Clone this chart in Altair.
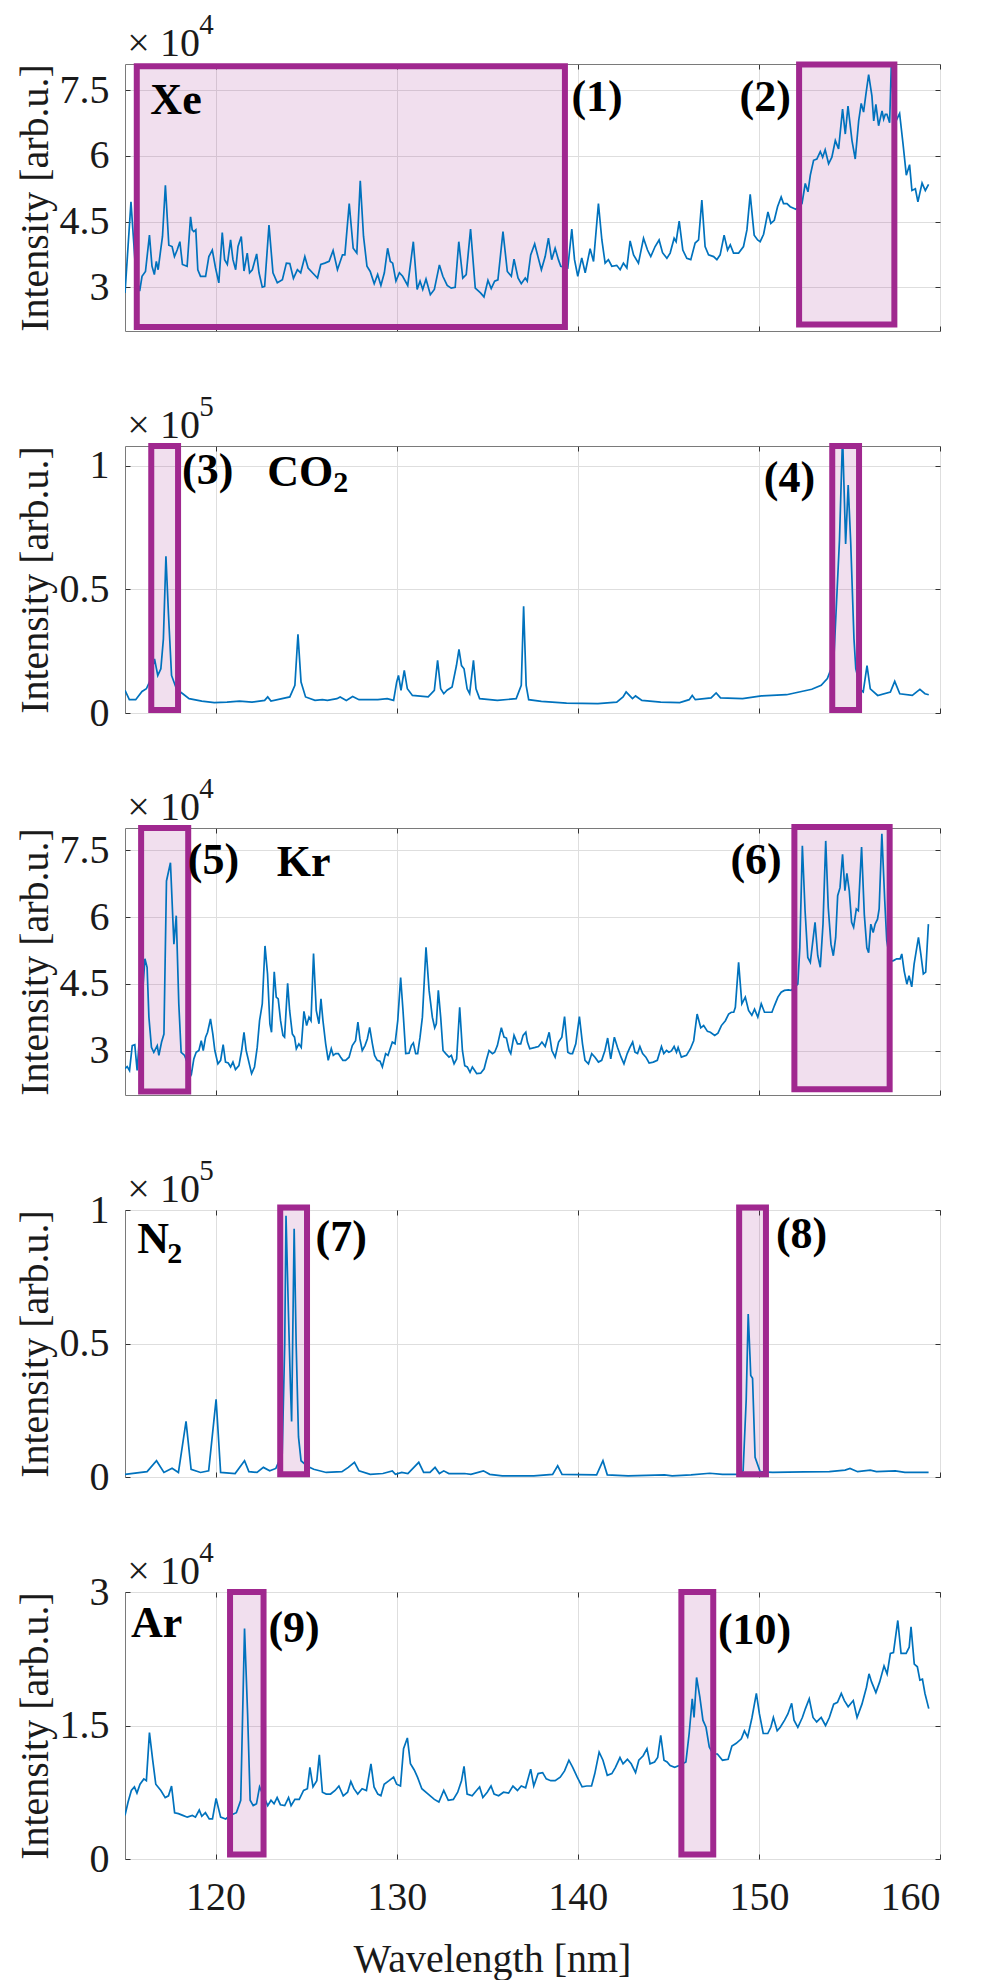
import altair as alt
import pandas as pd

PURPLE = "#A0288F"
BLUE = "#0072BD"
FONT = "Liberation Serif"
X_DOMAIN = [115, 160]
X_TICKS = [120, 130, 140, 150, 160]

# ---------------- Xe ----------------
xe_wl = [115.0, 115.33, 115.6, 115.81, 115.94, 116.13, 116.35, 116.49, 116.62, 116.73, 116.83, 116.96, 117.07, 117.23,
         117.42, 117.60, 117.73, 117.88, 118.03, 118.17, 118.43, 118.62, 118.71, 118.80, 118.91, 119.02, 119.17, 119.45,
         119.63, 119.82, 120.0, 120.18, 120.37, 120.50, 120.65, 120.83, 120.96, 121.11, 121.24, 121.42, 121.57, 121.75,
         121.88, 122.03, 122.27, 122.40, 122.58, 122.71, 122.95, 123.17, 123.41, 123.69, 123.91, 124.10, 124.30, 124.52,
         124.70, 124.93, 125.11, 125.35, 125.63, 125.81, 126.03, 126.27, 126.49, 126.73, 127.01, 127.14, 127.38, 127.60,
         127.80, 127.99, 128.17, 128.36, 128.54, 128.76, 128.95, 129.13, 129.32, 129.50, 129.65, 129.78, 129.96, 130.15,
         130.33, 130.61, 130.92, 131.13, 131.29, 131.44, 131.62, 131.86, 132.08, 132.36, 132.55, 132.79, 133.01, 133.23,
         133.43, 133.65, 133.84, 134.08, 134.34, 134.63, 134.82, 135.04, 135.22, 135.41, 135.59, 135.87, 136.11, 136.33,
         136.48, 136.70, 136.88, 137.10, 137.21, 137.40, 137.62, 137.80, 137.99, 138.20, 138.38, 138.56, 138.75, 138.93,
         139.06, 139.45, 139.67, 139.82, 140.00, 140.22, 140.41, 140.68, 140.87, 141.14, 141.33, 141.51, 141.69, 141.88,
         142.15, 142.34, 142.52, 142.71, 142.89, 143.08, 143.35, 143.63, 143.85, 144.03, 144.27, 144.49, 144.68, 144.92,
         145.10, 145.32, 145.43, 145.60, 145.80, 146.02, 146.24, 146.48, 146.67, 146.85, 147.03, 147.22, 147.50, 147.68,
         147.86, 148.08, 148.27, 148.42, 148.60, 148.88, 149.15, 149.34, 149.52, 149.74, 149.93, 150.07, 150.26, 150.50,
         150.66, 150.85, 151.03, 151.23, 151.36, 151.55, 151.73, 152.04, 152.38, 152.56, 152.71, 152.84, 153.02, 153.20,
         153.39, 153.52, 153.66, 153.85, 154.03, 154.22, 154.40, 154.62, 154.77, 154.92, 155.14, 155.32, 155.51, 155.65,
         155.78, 155.91, 156.06, 156.24, 156.34, 156.46, 156.61, 156.80, 156.89, 156.98, 157.07, 157.22, 157.31, 157.45,
         157.62, 157.77, 157.96, 158.14, 158.32, 158.45, 158.64, 158.78, 159.01, 159.19, 159.37]
xe_int = [2.87, 4.95, 3.3, 2.91, 3.25, 3.36, 4.19, 3.48, 3.29, 3.59, 3.40, 3.82, 4.16, 5.33,
          3.96, 3.93, 3.70, 3.85, 4.04, 3.52, 3.48, 4.61, 4.31, 4.27, 4.31, 3.40, 3.25, 3.25,
          3.70, 3.85, 3.44, 3.10, 4.25, 3.63, 3.52, 4.08, 3.63, 3.40, 3.93, 4.16, 3.37, 3.78,
          3.33, 3.40, 3.76, 3.33, 3.00, 3.02, 4.42, 3.33, 3.10, 3.17, 3.55, 3.54, 3.20, 3.40,
          3.33, 3.70, 3.44, 3.33, 3.21, 3.52, 3.55, 3.59, 3.84, 3.40, 3.74, 3.74, 4.91, 3.89,
          3.78, 5.43, 4.16, 3.48, 3.36, 3.08, 3.29, 3.04, 3.33, 3.89, 3.59, 3.55, 3.14, 3.33,
          3.25, 3.04, 4.04, 2.95, 3.14, 2.95, 3.19, 2.83, 2.95, 3.51, 3.25, 3.04, 2.98, 3.00,
          4.04, 3.21, 3.29, 4.33, 2.98, 2.87, 2.78, 3.16, 2.97, 3.14, 3.17, 4.27, 3.36, 3.25,
          3.64, 3.21, 3.08, 3.21, 3.14, 3.74, 3.99, 3.70, 3.40, 3.70, 4.12, 3.63, 3.89, 3.63,
          3.48, 3.44, 4.33, 3.63, 3.25, 3.67, 3.33, 3.88, 3.59, 4.91, 4.08, 3.55, 3.63, 3.48,
          3.50, 3.40, 3.55, 3.44, 4.06, 3.74, 3.55, 4.12, 3.85, 3.70, 3.93, 4.08, 3.79, 3.66,
          3.78, 4.12, 4.04, 4.51, 3.85, 3.66, 3.63, 4.01, 4.08, 4.99, 3.93, 3.74, 3.70, 3.63,
          3.74, 4.19, 3.85, 3.97, 3.78, 3.78, 3.93, 4.31, 5.12, 4.19, 4.08, 4.04, 4.21, 4.72,
          4.46, 4.53, 4.84, 5.06, 4.91, 4.91, 4.84, 4.78, 4.91, 5.37, 5.18, 5.56, 5.90, 5.93,
          6.10, 5.97, 6.14, 5.82, 5.97, 6.35, 6.16, 7.07, 6.50, 7.14, 6.35, 5.93, 6.80, 7.20,
          7.00, 7.41, 7.86, 7.37, 6.80, 7.18, 6.69, 7.03, 6.84, 6.95, 6.95, 6.76, 8.05, 7.00,
          6.84, 6.97, 6.27, 5.56, 5.80, 5.21, 5.25, 4.95, 5.38, 5.21, 5.35]

# ---------------- CO2 ----------------
co2_wl = [115.00, 115.24, 115.59, 115.94, 116.18, 116.35, 116.63, 116.81, 116.98, 117.12, 117.26, 117.40, 117.57,
          117.85, 118.19, 118.54, 119.24, 119.93, 120.63, 121.32, 122.01, 122.71, 122.88, 123.06, 124.10, 124.38,
          124.55, 124.72, 124.97, 125.49, 125.90, 126.18, 126.70, 126.88, 127.22, 127.57, 127.92, 128.96, 129.48,
          129.83, 130.00, 130.10, 130.24, 130.42, 130.59, 130.87, 131.74, 132.08, 132.26, 132.43, 132.60, 132.78,
          133.06, 133.30, 133.44, 133.58, 133.72, 133.89, 134.03, 134.24, 134.38, 134.58, 135.56, 136.60, 136.88,
          137.01, 137.15, 137.29, 137.99, 139.38, 141.11, 142.15, 142.50, 142.67, 142.85, 143.02, 143.19, 143.54,
          144.58, 145.63, 146.15, 146.32, 146.49, 147.36, 147.64, 147.88, 149.10, 150.14, 151.53, 152.92, 153.44,
          153.78, 154.13, 154.45, 154.62, 154.79, 154.93, 155.07, 155.25, 155.35, 155.63, 155.76, 155.97, 156.15,
          156.56, 157.26, 157.50, 157.78, 158.47, 158.89, 159.17, 159.38]
co2_int = [0.092, 0.054, 0.054, 0.087, 0.098, 0.125, 0.219, 0.152, 0.179, 0.30, 0.634, 0.40, 0.152,
           0.096, 0.078, 0.058, 0.048, 0.042, 0.044, 0.048, 0.044, 0.051, 0.065, 0.048, 0.065, 0.112,
           0.318, 0.125, 0.065, 0.051, 0.054, 0.051, 0.058, 0.065, 0.051, 0.067, 0.054, 0.054, 0.058,
           0.051, 0.125, 0.152, 0.092, 0.172, 0.098, 0.071, 0.065, 0.092, 0.213, 0.098, 0.078, 0.092,
           0.105, 0.192, 0.257, 0.192, 0.179, 0.098, 0.078, 0.213, 0.098, 0.058, 0.051, 0.058, 0.112,
           0.432, 0.112, 0.054, 0.047, 0.040, 0.038, 0.044, 0.065, 0.085, 0.071, 0.058, 0.069, 0.051,
           0.044, 0.042, 0.054, 0.071, 0.054, 0.061, 0.081, 0.061, 0.058, 0.069, 0.074, 0.096, 0.112,
           0.139, 0.206, 0.70, 1.12, 0.684, 0.922, 0.690, 0.30, 0.179, 0.092, 0.085, 0.192, 0.098,
           0.071, 0.085, 0.128, 0.078, 0.071, 0.096, 0.078, 0.074]

# ---------------- Kr ----------------
kr_wl = [115.0, 115.12, 115.25, 115.40, 115.54, 115.67, 116.10, 116.22, 116.32, 116.46, 116.59, 116.78, 116.87,
         117.02, 117.15, 117.29, 117.51, 117.70, 117.83, 117.97, 118.10, 118.29, 118.67, 118.80, 118.93, 119.08,
         119.21, 119.32, 119.45, 119.56, 119.72, 119.85, 119.96, 120.13, 120.28, 120.42, 120.55, 120.70, 120.83,
         120.96, 121.10, 121.29, 121.44, 121.57, 121.69, 121.84, 121.99, 122.15, 122.30, 122.43, 122.58, 122.73,
         122.87, 123.00, 123.09, 123.24, 123.35, 123.46, 123.59, 123.72, 123.81, 123.98, 124.09, 124.24, 124.36,
         124.46, 124.60, 124.73, 124.88, 125.03, 125.16, 125.27, 125.41, 125.56, 125.71, 125.82, 125.93, 126.08,
         126.22, 126.39, 126.50, 126.63, 126.78, 126.91, 127.03, 127.18, 127.37, 127.55, 127.73, 127.86, 127.97,
         128.10, 128.25, 128.38, 128.51, 128.66, 128.78, 128.93, 129.08, 129.21, 129.39, 129.52, 129.76, 129.91,
         130.06, 130.22, 130.35, 130.50, 130.68, 130.81, 130.92, 131.05, 131.16, 131.29, 131.42, 131.62, 131.79,
         131.97, 132.10, 132.19, 132.30, 132.43, 132.56, 132.71, 132.89, 133.02, 133.17, 133.31, 133.48, 133.63,
         133.76, 133.90, 134.05, 134.18, 134.31, 134.42, 134.64, 134.83, 134.95, 135.10, 135.29, 135.41, 135.56,
         135.78, 135.93, 136.06, 136.21, 136.30, 136.48, 136.67, 136.85, 136.98, 137.13, 137.22, 137.35, 137.65,
         137.83, 138.02, 138.20, 138.42, 138.57, 138.75, 138.94, 139.12, 139.27, 139.45, 139.58, 139.71, 139.89,
         140.09, 140.26, 140.40, 140.59, 140.77, 140.95, 141.14, 141.32, 141.50, 141.65, 141.82, 142.02, 142.20,
         142.39, 142.55, 142.73, 142.88, 143.03, 143.16, 143.30, 143.43, 143.58, 143.76, 143.94, 144.17, 144.39,
         144.62, 144.75, 144.90, 145.03, 145.17, 145.32, 145.45, 145.54, 145.72, 146.00, 146.22, 146.40, 146.59,
         146.79, 146.95, 147.16, 147.32, 147.56, 147.74, 147.93, 148.15, 148.33, 148.48, 148.61, 148.70, 148.88,
         149.06, 149.25, 149.43, 149.61, 149.76, 149.94, 150.13, 150.31, 150.53, 150.72, 150.86, 151.05, 151.23,
         151.41, 151.63, 151.78, 152.15, 152.26, 152.40, 152.55, 152.70, 152.84, 152.97, 153.10, 153.25, 153.39,
         153.54, 153.69, 153.83, 153.98, 154.11, 154.24, 154.35, 154.48, 154.62, 154.75, 154.86, 154.99, 155.12,
         155.23, 155.38, 155.49, 155.67, 155.82, 155.96, 156.06, 156.18, 156.31, 156.42, 156.55, 156.64, 156.79,
         156.95, 157.06, 157.25, 157.43, 157.61, 157.80, 157.89, 158.02, 158.17, 158.29, 158.44, 158.57, 158.72,
         158.81, 158.94, 159.08, 159.21, 159.36]
kr_int = [2.59, 2.64, 2.55, 3.11, 3.13, 2.55, 5.06, 4.87, 3.75, 3.07, 2.96, 3.11, 2.89,
          3.19, 3.37, 6.81, 7.22, 5.39, 6.03, 4.05, 2.96, 2.89, 2.48, 2.81, 2.96, 3.00,
          3.22, 3.00, 3.30, 3.41, 3.71, 3.37, 3.00, 2.70, 2.78, 3.13, 2.74, 2.72, 2.63,
          2.74, 2.57, 2.66, 3.00, 3.41, 3.00, 2.74, 2.48, 2.63, 3.07, 3.67, 4.05, 5.35,
          4.72, 3.60, 3.41, 4.77, 4.20, 4.16, 3.67, 3.34, 3.30, 4.51, 3.90, 3.37, 3.30,
          3.04, 3.15, 3.07, 3.88, 3.56, 3.75, 3.67, 5.18, 3.90, 3.60, 4.16, 3.67, 3.15,
          2.78, 3.04, 2.89, 2.93, 2.93, 2.85, 2.78, 2.78, 2.85, 3.11, 3.22, 3.64, 3.26,
          3.00, 3.11, 3.26, 3.52, 3.15, 2.89, 2.78, 2.76, 2.63, 2.93, 2.89, 3.19, 3.15,
          3.67, 4.64, 3.90, 2.93, 2.94, 3.11, 3.17, 2.93, 2.93, 3.30, 3.75, 5.32, 4.35,
          3.75, 3.51, 3.60, 4.35, 3.75, 3.00, 2.93, 2.85, 2.89, 2.70, 2.81, 3.97, 3.00,
          2.66, 2.63, 2.51, 2.63, 2.55, 2.48, 2.49, 2.59, 2.78, 3.00, 2.93, 2.96, 3.11,
          3.51, 3.30, 3.28, 3.00, 2.93, 3.34, 3.15, 3.15, 3.34, 3.41, 3.19, 3.04, 3.07,
          3.09, 3.19, 3.09, 3.41, 3.00, 2.85, 3.19, 3.30, 3.76, 2.96, 2.93, 2.93, 3.15,
          3.76, 3.15, 2.78, 2.70, 2.93, 2.85, 2.74, 2.78, 3.00, 3.28, 2.81, 3.30, 3.06,
          2.85, 2.70, 2.93, 3.07, 3.19, 2.96, 2.93, 3.09, 2.93, 2.85, 2.72, 2.74, 2.78,
          3.09, 2.93, 3.00, 2.96, 2.99, 3.09, 2.96, 3.07, 2.85, 2.89, 3.04, 3.22, 3.82,
          3.51, 3.56, 3.43, 3.41, 3.34, 3.39, 3.56, 3.67, 3.82, 3.86, 3.86, 3.97, 4.98,
          4.05, 4.20, 3.90, 3.79, 3.93, 3.75, 4.05, 3.86, 3.86, 3.86, 4.01, 4.20, 4.31,
          4.35, 4.36, 4.35, 4.49, 5.31, 7.60, 6.14, 5.09, 4.98, 5.43, 5.88, 5.13, 4.87,
          5.84, 7.71, 6.21, 5.39, 5.13, 5.54, 6.48, 6.66, 7.41, 6.59, 6.98, 6.59, 5.88,
          5.77, 6.18, 6.14, 7.57, 6.06, 5.31, 5.20, 5.84, 5.65, 5.84, 5.95, 6.18, 7.87,
          6.36, 5.47, 5.00, 5.02, 5.06, 5.06, 5.17, 4.79, 4.49, 4.68, 4.43, 4.94, 5.32,
          5.54, 5.17, 4.72, 4.76, 5.84]

# ---------------- N2 ----------------
n2_wl = [115.0, 116.22, 116.74, 117.15, 117.60, 117.95, 118.37, 118.65, 119.17, 119.62, 120.03, 120.28, 121.08,
         121.60, 121.84, 122.29, 122.64, 122.99, 123.33, 123.68, 123.82, 123.89, 124.03, 124.13, 124.20, 124.34,
         124.45, 124.58, 124.72, 125.07, 125.42, 126.11, 126.98, 127.33, 127.67, 127.92, 128.54, 129.24, 129.76,
         129.93, 130.28, 130.62, 131.22, 131.49, 131.84, 132.12, 132.36, 132.60, 132.88, 133.75, 134.10, 134.79,
         135.14, 135.83, 137.57, 138.61, 138.89, 139.13, 141.04, 141.39, 141.63, 142.78, 144.79, 145.21, 146.25,
         147.29, 147.99, 148.85, 149.13, 149.30, 149.41, 149.51, 149.55, 149.65, 149.79, 150.07, 150.76, 152.50,
         153.89, 154.76, 155.03, 155.45, 156.15, 156.49, 157.53, 158.06, 159.37]
n2_int = [0.010, 0.020, 0.061, 0.017, 0.033, 0.017, 0.208, 0.029, 0.017, 0.023, 0.291, 0.017, 0.013,
          0.061, 0.020, 0.017, 0.036, 0.023, 0.032, 0.087, 0.50, 0.978, 0.60, 0.35, 0.208, 0.930,
          0.50, 0.15, 0.061, 0.040, 0.029, 0.017, 0.020, 0.036, 0.055, 0.023, 0.010, 0.013, 0.023,
          0.010, 0.017, 0.013, 0.055, 0.017, 0.017, 0.036, 0.013, 0.023, 0.013, 0.013, 0.010, 0.023,
          0.010, 0.004, 0.004, 0.010, 0.042, 0.010, 0.008, 0.061, 0.008, 0.004, 0.008, 0.004, 0.008,
          0.014, 0.010, 0.010, 0.023, 0.29, 0.61, 0.45, 0.38, 0.37, 0.074, 0.020, 0.017, 0.019,
          0.020, 0.026, 0.032, 0.020, 0.026, 0.020, 0.023, 0.017, 0.017]

# ---------------- Ar ----------------
ar_wl = [115.00, 115.17, 115.35, 115.52, 115.66, 115.83, 116.04, 116.18, 116.35, 116.53, 116.70, 116.98, 117.22,
         117.40, 117.57, 117.74, 117.95, 118.19, 118.44, 118.72, 118.89, 119.10, 119.24, 119.44, 119.65, 119.83,
         120.03, 120.28, 120.56, 120.80, 121.15, 121.39, 121.60, 121.77, 121.91, 122.08, 122.26, 122.43, 122.88,
         123.06, 123.23, 123.40, 123.58, 123.82, 124.03, 124.17, 124.38, 124.62, 124.86, 125.07, 125.21, 125.38,
         125.59, 125.73, 125.90, 126.11, 126.35, 126.60, 126.81, 127.05, 127.29, 127.47, 127.64, 127.85, 128.09,
         128.33, 128.58, 128.75, 128.96, 129.13, 129.31, 129.58, 129.83, 130.00, 130.21, 130.38, 130.59, 130.76,
         130.97, 131.15, 131.39, 131.74, 132.08, 132.33, 132.60, 132.85, 133.13, 133.37, 133.58, 133.72, 133.89,
         134.17, 134.41, 134.58, 134.76, 135.00, 135.21, 135.38, 135.63, 135.90, 136.18, 136.42, 136.67, 136.88,
         137.12, 137.40, 137.57, 137.81, 138.06, 138.26, 138.51, 138.75, 139.03, 139.27, 139.51, 139.72, 139.97,
         140.24, 140.49, 140.76, 140.94, 141.18, 141.39, 141.63, 141.88, 142.08, 142.33, 142.50, 142.74, 142.95,
         143.19, 143.37, 143.61, 143.82, 143.99, 144.24, 144.41, 144.58, 144.76, 144.93, 145.10, 145.35, 145.60,
         145.97, 146.15, 146.32, 146.42, 146.56, 146.74, 146.91, 147.08, 147.26, 147.47, 147.71, 147.99, 148.30,
         148.51, 148.75, 149.03, 149.20, 149.38, 149.62, 149.86, 150.03, 150.24, 150.49, 150.66, 150.80, 151.01,
         151.18, 151.42, 151.60, 151.81, 151.94, 152.15, 152.40, 152.57, 152.78, 152.99, 153.19, 153.44, 153.68,
         153.89, 154.13, 154.34, 154.55, 154.72, 154.93, 155.21, 155.42, 155.69, 155.94, 156.08, 156.22, 156.46,
         156.67, 156.91, 157.08, 157.26, 157.43, 157.67, 157.85, 158.13, 158.30, 158.40, 158.58, 158.75, 158.89,
         159.03, 159.17, 159.38]
ar_int = [0.49, 0.64, 0.77, 0.81, 0.74, 0.84, 0.90, 0.88, 1.42, 1.11, 0.84, 0.77, 0.69,
          0.71, 0.82, 0.52, 0.51, 0.49, 0.47, 0.49, 0.47, 0.55, 0.48, 0.52, 0.45, 0.45,
          0.68, 0.47, 0.45, 0.49, 0.52, 0.66, 2.59, 1.63, 0.66, 0.60, 0.62, 0.81, 0.60,
          0.66, 0.62, 0.69, 0.61, 0.60, 0.69, 0.60, 0.67, 0.67, 0.77, 0.79, 1.03, 0.81,
          0.88, 1.17, 0.75, 0.73, 0.73, 0.77, 0.82, 0.71, 0.75, 0.87, 0.79, 0.73, 0.79,
          0.77, 1.07, 0.81, 0.73, 0.71, 0.84, 0.88, 0.92, 0.84, 0.82, 1.24, 1.36, 1.07,
          1.00, 0.92, 0.79, 0.73, 0.67, 0.64, 0.77, 0.66, 0.67, 0.75, 0.88, 1.04, 0.73,
          0.71, 0.77, 0.81, 0.69, 0.75, 0.82, 0.73, 0.71, 0.75, 0.74, 0.82, 0.77, 0.82,
          0.80, 1.01, 0.82, 0.96, 0.97, 0.90, 0.88, 0.88, 0.92, 0.99, 1.11, 1.03, 0.92,
          0.81, 0.82, 0.82, 0.96, 1.20, 1.11, 0.94, 0.96, 1.03, 1.14, 1.07, 1.12, 1.07,
          0.97, 1.11, 1.16, 1.24, 1.07, 1.09, 1.14, 1.39, 1.11, 1.09, 1.05, 1.03, 1.05,
          1.09, 1.41, 1.80, 1.59, 2.04, 1.82, 1.56, 1.48, 1.26, 1.18, 1.18, 1.11, 1.12,
          1.27, 1.30, 1.35, 1.44, 1.37, 1.59, 1.86, 1.63, 1.41, 1.41, 1.48, 1.59, 1.44,
          1.48, 1.56, 1.63, 1.75, 1.56, 1.48, 1.59, 1.69, 1.80, 1.59, 1.54, 1.59, 1.50,
          1.59, 1.74, 1.76, 1.86, 1.78, 1.71, 1.78, 1.59, 1.74, 1.93, 2.08, 1.99, 1.87,
          1.99, 2.17, 2.08, 2.31, 2.32, 2.68, 2.31, 2.31, 2.38, 2.61, 2.19, 2.16, 2.01,
          2.02, 1.86, 1.69]

# ---------------- panel settings ----------------
y_domains = [[2, 8.1], [0, 1.08], [2, 8], [0, 1], [0, 3]]
y_ticks = [[3, 4.5, 6, 7.5], [0, 0.5, 1], [3, 4.5, 6, 7.5], [0, 0.5, 1], [0, 1.5, 3]]
exponents = ["4", "5", "4", "5", "4"]

# highlight boxes: x1, x2, y1, y2
box_x1 = [[115.65, 152.22], [116.45, 154.05], [115.89, 151.96], [123.57, 148.91], [120.8, 145.72]]
box_x2 = [[139.29, 157.48], [117.93, 155.53], [118.49, 157.22], [125.05, 150.39], [122.65, 147.48]]
box_y1 = [[2.09, 2.15], [0.012, 0.012], [2.08, 2.13], [0.01, 0.01], [0.05, 0.05]]
box_y2 = [[8.05, 8.09], [1.08, 1.08], [8.0, 8.02], [1.009, 1.009], [3.0, 3.0]]

# bold labels
label_text = [["Xe", "(1)", "(2)"], ["(3)", "CO", "(4)"], ["(5)", "Kr", "(6)"], ["N", "(7)", "(8)"],
              ["Ar", "(9)", "(10)"]]
label_x = [[116.40, 139.65, 148.93], [118.15, 122.85, 150.27], [118.47, 123.38, 148.43],
           [115.67, 125.52, 150.94], [115.33, 122.92, 147.74]]
label_y = [[6.95, 7.03, 7.03], [0.925, 0.92, 0.892], [6.96, 6.93, 6.96], [0.84, 0.847, 0.859],
           [2.49, 2.44, 2.42]]
# subscripts (panel index, text, x, y, offset in px after the main glyphs)
sub_panel = [1, 3]
sub_text = ["2", "2"]
sub_x = [122.85, 115.67]
sub_y = [0.892, 0.80]
sub_dx = [66, 30]

series = [(xe_wl, xe_int), (co2_wl, co2_int), (kr_wl, kr_int), (n2_wl, n2_int), (ar_wl, ar_int)]

W, H = 815, 267
AX = dict(labelFont=FONT, titleFont=FONT, labelFontSize=40, titleFontSize=40, titleFontWeight="normal",
          labelColor="#1a1a1a", titleColor="#1a1a1a", gridColor="#dedede", gridWidth=1, domain=False,
          ticks=True, tickSize=5, tickColor="#333333", tickWidth=1, offset=-5)
TICK_ONLY = dict(labels=False, title=None, grid=False, domain=False, ticks=True, tickSize=5,
                 tickColor="#333333", tickWidth=1, offset=-5)


def make_panel(i):
    wl, it = series[i]
    ydom = y_domains[i]
    bottom = (i == len(series) - 1)
    if bottom:
        xaxis = alt.Axis(values=X_TICKS, format="d", title="Wavelength [nm]", grid=True,
                         labelPadding=18, titlePadding=22, titleX=367, titleAlign="center", **AX)
    else:
        xaxis = alt.Axis(values=X_TICKS, labels=False, title=None, grid=True, **AX)
    yaxis = alt.Axis(values=y_ticks[i], format=".2~g", title="Intensity [arb.u.]", grid=True,
                     labelPadding=16, titlePadding=4, **AX)
    xtop = alt.Axis(values=X_TICKS, orient="top", **TICK_ONLY)
    yright = alt.Axis(values=y_ticks[i], orient="right", **TICK_ONLY)
    xs = alt.Scale(domain=X_DOMAIN, nice=False, zero=False)
    ys = alt.Scale(domain=ydom, nice=False, zero=False)

    df = pd.DataFrame({"wl": wl, "val": it})
    bx = pd.DataFrame({"x1": box_x1[i], "x2": box_x2[i], "y1": box_y1[i], "y2": box_y2[i]})
    lb = pd.DataFrame({"x": label_x[i], "y": label_y[i], "t": label_text[i]})
    ex = pd.DataFrame({"x": [115.13], "y": [ydom[1]], "t": ["× 10"], "s": [exponents[i]]})

    def xe(field, axis=None):
        return alt.X(field, type="quantitative", scale=xs, axis=axis)

    def ye(field, axis=None):
        return alt.Y(field, type="quantitative", scale=ys, axis=axis)

    fill = alt.Chart(bx).mark_rect(fill=PURPLE, fillOpacity=0.15).encode(
        x=xe("x1", xtop), x2="x2", y=ye("y1", yright), y2="y2")
    line = alt.Chart(df).mark_line(color=BLUE, strokeWidth=1.7, clip=True).encode(
        x=xe("wl", xaxis), y=ye("val", yaxis))
    border = alt.Chart(bx).mark_rect(filled=False, stroke=PURPLE, strokeWidth=6).encode(
        x=xe("x1"), x2="x2", y=ye("y1"), y2="y2")
    labels = alt.Chart(lb).mark_text(align="left", baseline="alphabetic", font=FONT, fontWeight="bold",
                                     fontSize=44, color="black").encode(x=xe("x"), y=ye("y"), text="t")
    expo = alt.Chart(ex).mark_text(align="left", baseline="alphabetic", font=FONT, fontSize=40,
                                   color="#1a1a1a", dy=-8).encode(x=xe("x"), y=ye("y"), text="t")
    expo_sup = alt.Chart(ex).mark_text(align="left", baseline="alphabetic", font=FONT, fontSize=29,
                                       color="#1a1a1a", dx=72, dy=-30).encode(x=xe("x"), y=ye("y"), text="s")
    layers = [fill, line, border, labels, expo, expo_sup]
    for k, p in enumerate(sub_panel):
        if p == i:
            sd = pd.DataFrame({"x": [sub_x[k]], "y": [sub_y[k]], "t": [sub_text[k]]})
            layers.append(alt.Chart(sd).mark_text(align="left", baseline="alphabetic", font=FONT,
                                                  fontWeight="bold", fontSize=30, color="black",
                                                  dx=sub_dx[k]).encode(x=xe("x"), y=ye("y"), text="t"))
    return alt.layer(*layers).resolve_axis(x="independent", y="independent").properties(width=W, height=H)


chart = alt.vconcat(*[make_panel(i) for i in range(5)], spacing=115, bounds="flush").properties(
    padding={"left": 6, "top": 2, "right": 5, "bottom": 0}, background="white"
).configure_view(
    stroke="#7a7a7a", strokeWidth=1
)

chart.save("out.html", embed_options={"renderer": "svg", "actions": False})
